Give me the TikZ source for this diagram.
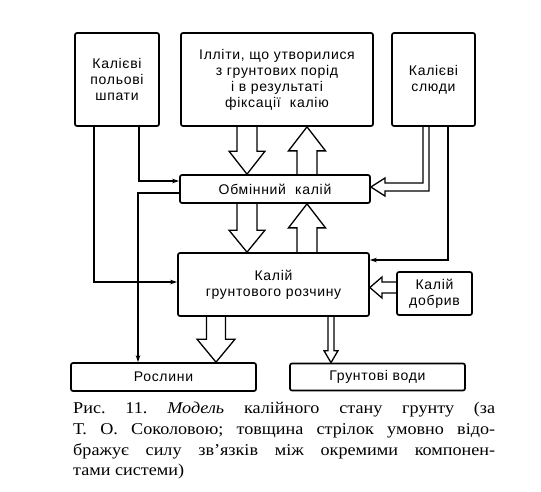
\documentclass[tikz,border=0pt]{standalone}
\usepackage{fontspec}
\setmainfont{Liberation Serif}
\newfontfamily\dsans[LetterSpace=5]{Liberation Sans}
\newfontfamily\capfont[FakeStretch=1.1]{Liberation Serif}
\usetikzlibrary{calc,arrows.meta}
\newcommand\downblock[6]{%
\draw[hollow] let \p1=(#1.south), \p2=(#2.north) in
 ({#3pt-#4pt},\y1) -- ({#3pt-#4pt},{\y2+#6pt}) -- ({#3pt-#5pt},{\y2+#6pt}) -- (#3pt,\y2) -- ({#3pt+#5pt},{\y2+#6pt}) -- ({#3pt+#4pt},{\y2+#6pt}) -- ({#3pt+#4pt},\y1);}
\newcommand\upblock[6]{%
\draw[hollow] let \p1=(#1.north), \p2=(#2.south) in
 ({#3pt-#4pt},\y1) -- ({#3pt-#4pt},{\y2-#6pt}) -- ({#3pt-#5pt},{\y2-#6pt}) -- (#3pt,\y2) -- ({#3pt+#5pt},{\y2-#6pt}) -- ({#3pt+#4pt},{\y2-#6pt}) -- ({#3pt+#4pt},\y1);}
\begin{document}
\begin{tikzpicture}[x=1pt,y=-1pt,
 box/.style={draw,line width=1.7pt,rounded corners=2pt,inner sep=0pt,align=center,
   font=\dsans\fontsize{14}{16}\selectfont},
 thinarr/.style={line width=1.3pt,-{Stealth[length=7pt,width=4.5pt]}},
 hollow/.style={line width=1.3pt,line join=miter}]
\useasboundingbox (0,0) rectangle (541,491);
\node[box,minimum width=84pt,minimum height=93pt] (kp) at (117,79.5) {Калієві\\польові\\шпати};
\node[box,minimum width=192pt,minimum height=93pt] (ill) at (277,79.5) {Ілліти, що утворилися\\з грунтових порід\\і в результаті\\фіксації\ \ калію};
\node[box,minimum width=83pt,minimum height=93pt] (ks) at (433.5,79.5) {Калієві\\слюди};
\node[box,minimum width=190pt,minimum height=28pt] (obm) at (275,189) {Обмінний\ \ калій};
\node[box,minimum width=191pt,minimum height=63pt] (gr) at (273.5,284.5) {Калій\\грунтового розчину};
\node[box,minimum width=75pt,minimum height=43pt] (dob) at (434.5,293.5) {Калій\\добрив};
\node[box,minimum width=185pt,minimum height=28pt] (ros) at (163.5,377) {Рослини};
\node[box,minimum width=175pt,minimum height=27pt] (vod) at (377.5,377) {Грунтові води};
% block arrows
\downblock{ill}{obm}{247}{10}{18}{23}
\upblock{obm}{ill}{307}{10}{18.5}{24}
\downblock{obm}{gr}{247}{10}{18}{22}
\upblock{gr}{obm}{307}{10}{18.5}{24}
\downblock{gr}{ros}{216}{9.5}{19}{23}
\downblock{gr}{vod}{331}{3}{7}{12}
\draw[hollow] let \p1=(ks.south), \p2=(obm.east) in
 (423pt,\y1) -- (423pt,-183pt) -- (385pt,-183pt) -- (385pt,-178pt) -- (\x2,-187pt)
 -- (385pt,-196pt) -- (385pt,-191pt) -- (429pt,-191pt) -- (429pt,\y1);
\draw[hollow] let \p1=(dob.west), \p2=(gr.east) in
 (\x1,-282pt) -- (382pt,-282pt) -- (382pt,-277pt) -- (\x2,-287.5pt)
 -- (382pt,-298pt) -- (382pt,-293pt) -- (\x1,-293pt);
% thin arrows
\draw[thinarr] ($(kp.south)+(-23,0)$) |- ($(gr.west)+(0,-2.5)$);
\draw[thinarr] ($(kp.south)+(22,0)$) |- ($(obm.west)+(0,-8)$);
\draw[thinarr] ($(obm.west)+(0,4)$) -| ($(ros.north)+(-25.5,0)$);
\draw[thinarr] ($(ks.south)+(14.5,0)$) |- ($(gr.east)+(0,-24.5)$);
% caption
\node[anchor=north west,inner sep=0pt,text width=422pt,align=justify,
  font=\capfont\fontsize{16.5}{20.7}\selectfont] (cap) at (73,402)
 {\frenchspacing\hyphenpenalty=10000 Рис. 11. \textit{Модель} калійного стану грунту (за\linebreak
  Т. О. Соколовою; товщина стрілок умовно відо-\linebreak
  бражує силу зв’язків між окремими компонен-\linebreak
  тами системи)};
\end{tikzpicture}
\end{document}
